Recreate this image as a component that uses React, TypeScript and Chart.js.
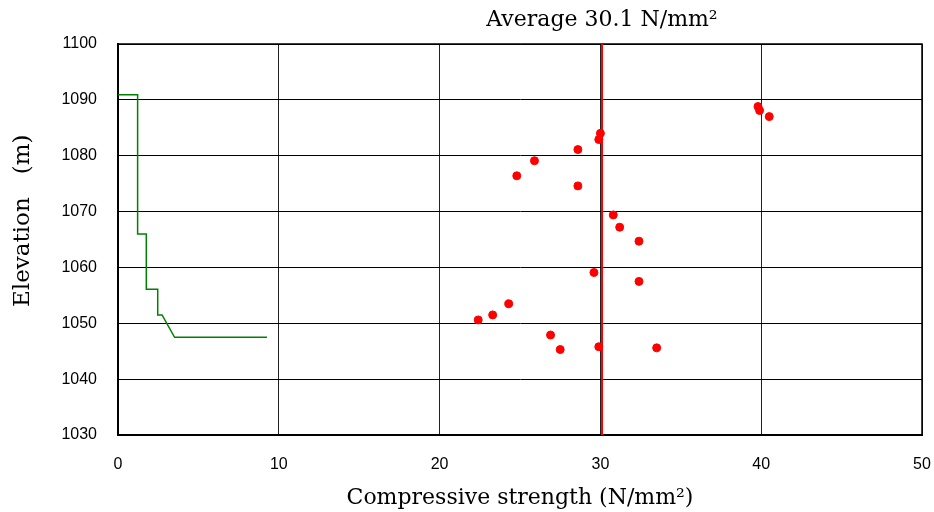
import React, { useEffect, useRef } from 'react';
import { Chart, registerables } from 'chart.js';

Chart.register(...registerables);

// Test results: compressive strength (N/mm²) vs elevation (m)
const testStrength = [30.0, 29.9, 28.6, 25.9, 24.8, 28.6, 30.8, 31.2, 32.4, 29.6, 32.4, 24.3, 23.3, 22.4, 26.9, 27.5, 29.9, 33.5, 39.8, 39.9, 40.5];
const testElevation = [1084.0, 1082.9, 1081.1, 1079.1, 1076.4, 1074.6, 1069.4, 1067.2, 1064.7, 1059.1, 1057.5, 1053.5, 1051.5, 1050.6, 1047.9, 1045.3, 1045.8, 1045.6, 1088.8, 1088.1, 1087.0];

// Green profile line
const profileStrength = [0, 1.22, 1.22, 1.76, 1.76, 2.47, 2.47, 2.74, 3.52, 9.27];
const profileElevation = [1090.9, 1090.9, 1066.0, 1066.0, 1056.1, 1056.1, 1051.5, 1051.5, 1047.5, 1047.5];

const averageStrength = 30.1;

const xMin = 0;
const xMax = 50;
const xStep = 10;
const yMin = 1030;
const yMax = 1100;
const yStep = 10;

const titleText = `Average ${averageStrength} N/mm²`;
const xTitle = 'Compressive strength (N/mm²)';
const yTitle = 'Elevation\u3000(m)';

const serif = '"DejaVu Serif", serif';
const sans = '"Liberation Sans", Arial, sans-serif';

const textPlugin = {
  id: 'texts',
  afterDraw(chart: any) {
    const ctx = chart.ctx;
    const x = chart.scales.x.getPixelForValue(averageStrength);
    ctx.save();
    ctx.font = `22px ${serif}`;
    ctx.fillStyle = '#000';
    ctx.textAlign = 'center';
    ctx.textBaseline = 'middle';
    ctx.fillText(titleText, x, 20);
    ctx.restore();

    // y-axis title, rotated, starting near the lower part of the axis
    const area = chart.chartArea;
    const yStart = area.top + (area.bottom - area.top) * 0.6726;
    ctx.save();
    ctx.translate(23, yStart);
    ctx.rotate(-Math.PI / 2);
    ctx.font = `23px ${serif}`;
    ctx.fillStyle = '#000';
    ctx.textAlign = 'left';
    ctx.textBaseline = 'middle';
    ctx.fillText(yTitle, 0, 0);
    ctx.restore();
  },
};

const framePlugin = {
  id: 'frame',
  beforeDatasetsDraw(chart: any) {
    const { left, top, right, bottom } = chart.chartArea;
    const ctx = chart.ctx;
    ctx.save();
    ctx.strokeStyle = '#000';
    ctx.lineWidth = 1.5;
    ctx.strokeRect(left, top, right - left, bottom - top);
    ctx.restore();
  },
};

export default function App() {
  const ref = useRef<HTMLCanvasElement>(null);

  useEffect(() => {
    const canvas = ref.current!;
    const chart = new Chart(canvas, {
      type: 'scatter',
      data: {
        datasets: [
          {
            label: 'Tests',
            data: testStrength.map((s, i) => ({ x: s, y: testElevation[i] })),
            backgroundColor: '#ff0000',
            borderColor: '#ff0000',
            pointRadius: 4,
            borderWidth: 1,
            order: 0,
          },
          {
            label: 'Average',
            data: [
              { x: averageStrength, y: yMin },
              { x: averageStrength, y: yMax },
            ],
            showLine: true,
            borderColor: '#ff0000',
            borderWidth: 2,
            pointRadius: 0,
            order: 1,
          },
          {
            label: 'Profile',
            data: profileStrength.map((s, i) => ({ x: s, y: profileElevation[i] })),
            showLine: true,
            borderColor: '#008000',
            borderWidth: 1.5,
            pointRadius: 0,
            tension: 0,
            order: 2,
          },
        ],
      },
      options: {
        responsive: false,
        animation: false,
        layout: { padding: { left: 0, right: 0, top: 44, bottom: 0 } },
        plugins: {
          legend: { display: false },
          tooltip: { enabled: false },
          title: { display: false },
        },
        scales: {
          x: {
            type: 'linear',
            min: xMin,
            max: xMax,
            afterFit(scale: any) {
              scale.height = 77;
              scale.paddingLeft = 0;
              scale.paddingRight = 12;
            },
            ticks: {
              stepSize: xStep,
              color: '#000',
              font: { family: sans, size: 16 },
              padding: 20,
              maxRotation: 0,
              callback: (v: any) => String(v),
            },
            grid: { color: '#222', lineWidth: 1, drawTicks: false },
            border: { color: '#000', width: 2 },
            title: {
              display: true,
              text: xTitle,
              color: '#000',
              font: { family: serif, size: 22 },
              padding: { top: 0, bottom: 1 },
            },
          },
          y: {
            type: 'linear',
            min: yMin,
            max: yMax,
            afterFit(scale: any) {
              scale.width = 118;
              scale.paddingTop = 0;
              scale.paddingBottom = 0;
            },
            ticks: {
              stepSize: yStep,
              color: '#000',
              font: { family: sans, size: 16 },
              padding: 21,
              callback: (v: any) => String(v),
            },
            grid: { color: '#000', lineWidth: 1, drawTicks: false },
            border: { color: '#000', width: 2 },
            title: { display: false },
          },
        },
      },
      plugins: [textPlugin, framePlugin],
    });
    return () => chart.destroy();
  }, []);

  return (
    <div style={{ position: 'fixed', left: 0, top: 0, width: 934, height: 512, background: '#fff' }}>
      <canvas ref={ref} width={934} height={512} style={{ width: 934, height: 512, display: 'block' }} />
    </div>
  );
}
